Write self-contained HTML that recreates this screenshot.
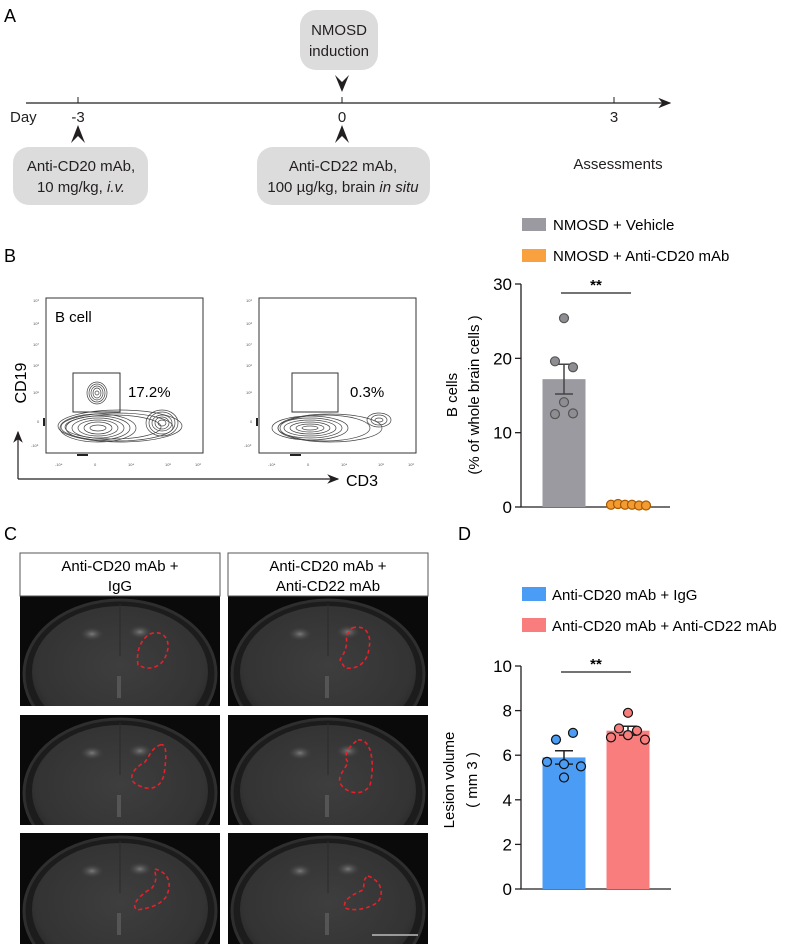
<!DOCTYPE html>
<html><head><meta charset="utf-8">
<style>
html,body{margin:0;padding:0;background:#fff;}
svg{display:block;font-family:"Liberation Sans",Arial,sans-serif;}
</style></head>
<body>
<svg id="fig" width="798" height="944" viewBox="0 0 798 944" xmlns="http://www.w3.org/2000/svg">
<defs>
<radialGradient id="brain" cx="50%" cy="45%" r="60%">
<stop offset="0" stop-color="#3e3e3e"/><stop offset="0.8" stop-color="#333"/><stop offset="1" stop-color="#222"/>
</radialGradient>
<radialGradient id="spot" cx="50%" cy="50%" r="50%">
<stop offset="0" stop-color="#7a7a7a"/><stop offset="1" stop-color="#3e3e3e" stop-opacity="0"/>
</radialGradient>
<marker id="ah" markerWidth="10" markerHeight="8" refX="9" refY="4" orient="auto"><path d="M0,0 L10,4 L0,8 L3,4Z" fill="#231f20"/></marker>
</defs>

<!-- Panel A -->
<g>
<text x="4" y="22" font-size="18">A</text>
<rect x="300" y="10" width="78" height="60" rx="16" fill="#dcdcdc"/>
<text x="339" y="35" font-size="15" text-anchor="middle" fill="#231f20">NMOSD</text>
<text x="339" y="56" font-size="15" text-anchor="middle" fill="#231f20">induction</text>
<path d="M335,75 L342,82 L349,75 L342,92Z" fill="#231f20"/>
<line x1="26" y1="103" x2="670" y2="103" stroke="#231f20" stroke-width="1.3" marker-end="url(#ah)"/>
<line x1="78" y1="97" x2="78" y2="103" stroke="#231f20"/>
<line x1="342" y1="97" x2="342" y2="103" stroke="#231f20"/>
<line x1="614" y1="97" x2="614" y2="103" stroke="#231f20"/>
<text x="10" y="122" font-size="15" fill="#231f20">Day</text>
<text x="78" y="122" font-size="15" text-anchor="middle" fill="#231f20">-3</text>
<text x="342" y="122" font-size="15" text-anchor="middle" fill="#231f20">0</text>
<text x="614" y="122" font-size="15" text-anchor="middle" fill="#231f20">3</text>
<path d="M71,143 L78,125 L85,143 L78,136Z" fill="#231f20"/>
<path d="M335,143 L342,125 L349,143 L342,136Z" fill="#231f20"/>
<rect x="13" y="147" width="135" height="58" rx="16" fill="#dcdcdc"/>
<text x="81" y="171" font-size="15" text-anchor="middle" fill="#231f20">Anti-CD20 mAb,</text>
<text x="81" y="192" font-size="15" text-anchor="middle" fill="#231f20">10 mg/kg, <tspan font-style="italic">i.v.</tspan></text>
<rect x="257" y="147" width="173" height="58" rx="16" fill="#dcdcdc"/>
<text x="343" y="171" font-size="15" text-anchor="middle" fill="#231f20">Anti-CD22 mAb,</text>
<text x="343" y="192" font-size="15" text-anchor="middle" fill="#231f20">100 µg/kg, brain <tspan font-style="italic">in situ</tspan></text>
<text x="618" y="169" font-size="15" text-anchor="middle" fill="#231f20">Assessments</text>
</g>

<!-- Panel B flow -->
<g>
<text x="4" y="262" font-size="18">B</text>
<rect x="46" y="298" width="157" height="155" fill="none" stroke="#333"/>
<rect x="259" y="298" width="157" height="155" fill="none" stroke="#333"/>
<text x="55" y="322" font-size="15">B cell</text>
<g fill="none" stroke="#444" stroke-width="0.7">
<ellipse cx="97" cy="393" rx="10" ry="11"/><ellipse cx="97" cy="393" rx="8" ry="9"/><ellipse cx="97" cy="393" rx="6" ry="7"/><ellipse cx="97" cy="393" rx="4" ry="5"/><ellipse cx="97" cy="393" rx="2" ry="2"/>
<ellipse cx="120" cy="426" rx="62" ry="16"/><ellipse cx="117" cy="427" rx="56" ry="14"/><ellipse cx="113" cy="427" rx="48" ry="12"/>
<ellipse cx="98" cy="428" rx="38" ry="14"/><ellipse cx="98" cy="428" rx="32" ry="12"/><ellipse cx="98" cy="428" rx="26" ry="10"/><ellipse cx="98" cy="428" rx="20" ry="8"/><ellipse cx="98" cy="428" rx="14" ry="6"/><ellipse cx="98" cy="428" rx="8" ry="3"/>
<ellipse cx="162" cy="423" rx="16" ry="13"/><ellipse cx="162" cy="423" rx="13" ry="11"/><ellipse cx="162" cy="423" rx="10" ry="8"/><ellipse cx="162" cy="423" rx="7" ry="6"/><ellipse cx="162" cy="423" rx="4" ry="3"/>
</g>
<rect x="73" y="373" width="47" height="39" fill="none" stroke="#333"/>
<text x="128" y="397" font-size="15">17.2%</text>
<g fill="none" stroke="#444" stroke-width="0.7">
<ellipse cx="310" cy="428" rx="38" ry="12"/><ellipse cx="310" cy="428" rx="32" ry="10"/><ellipse cx="310" cy="428" rx="26" ry="8"/><ellipse cx="310" cy="428" rx="20" ry="6"/><ellipse cx="310" cy="428" rx="14" ry="4"/><ellipse cx="310" cy="428" rx="8" ry="2"/>
<ellipse cx="330" cy="428" rx="52" ry="14"/><ellipse cx="325" cy="428" rx="45" ry="13"/>
<ellipse cx="379" cy="420" rx="12" ry="7"/><ellipse cx="379" cy="420" rx="8" ry="5"/><ellipse cx="379" cy="420" rx="4" ry="2"/>
</g>
<rect x="292" y="373" width="46" height="39" fill="none" stroke="#333"/>
<text x="350" y="397" font-size="15">0.3%</text>
<g font-size="4" fill="#555">
<text x="33" y="302">10⁹</text><text x="33" y="325">10⁸</text><text x="33" y="346">10⁷</text><text x="33" y="367">10⁶</text><text x="33" y="394">10⁵</text><text x="37" y="423">0</text><text x="31" y="447">-10⁵</text>
<text x="246" y="302">10⁹</text><text x="246" y="325">10⁸</text><text x="246" y="346">10⁷</text><text x="246" y="367">10⁶</text><text x="246" y="394">10⁵</text><text x="250" y="423">0</text><text x="244" y="447">-10⁵</text>
<text x="55" y="466">-10⁴</text><text x="94" y="466">0</text><text x="128" y="466">10⁴</text><text x="165" y="466">10⁵</text><text x="195" y="466">10⁶</text>
<text x="268" y="466">-10⁴</text><text x="307" y="466">0</text><text x="341" y="466">10⁴</text><text x="378" y="466">10⁵</text><text x="408" y="466">10⁶</text>
</g>
<g stroke="#222" stroke-width="2"><line x1="44" y1="418" x2="44" y2="426"/><line x1="257" y1="418" x2="257" y2="426"/><line x1="77" y1="455" x2="88" y2="455"/><line x1="290" y1="455" x2="301" y2="455"/></g>
<text transform="translate(26,383) rotate(-90)" font-size="16" text-anchor="middle">CD19</text>
<path d="M18,479 L18,432" stroke="#231f20" stroke-width="1.2" marker-end="url(#ah)"/>
<path d="M18,479 L338,479" stroke="#231f20" stroke-width="1.2" marker-end="url(#ah)"/>
<text x="346" y="486" font-size="16">CD3</text>
</g>

<!-- Panel B legend -->
<g>
<rect x="522" y="218" width="24" height="13" fill="#9b9aa0"/>
<text x="553" y="230" font-size="15">NMOSD + Vehicle</text>
<rect x="522" y="249" width="24" height="13" fill="#f9a03f"/>
<text x="553" y="261" font-size="15">NMOSD + Anti-CD20 mAb</text>
</g>
<g id="chartB"></g>

<!-- Panel C -->
<g>
<text x="4" y="540" font-size="18">C</text>
<g id="mri"></g>
<rect x="20" y="553" width="200" height="43" fill="#fff" stroke="#555"/>
<text x="120" y="571" font-size="15" text-anchor="middle">Anti-CD20 mAb +</text>
<text x="120" y="591" font-size="15" text-anchor="middle">IgG</text>
<rect x="228" y="553" width="200" height="43" fill="#fff" stroke="#555"/>
<text x="328" y="571" font-size="15" text-anchor="middle">Anti-CD20 mAb +</text>
<text x="328" y="591" font-size="15" text-anchor="middle">Anti-CD22 mAb</text>
<line x1="372" y1="935" x2="418" y2="935" stroke="#bbb" stroke-width="1.5"/>
</g>

<!-- Panel D -->
<text x="458" y="540" font-size="18">D</text>
<g>
<rect x="522" y="587" width="24" height="14" fill="#4b9cf5"/>
<text x="552" y="600" font-size="15">Anti-CD20 mAb + IgG</text>
<rect x="522" y="618" width="24" height="14" fill="#f87d7c"/>
<text x="552" y="631" font-size="15">Anti-CD20 mAb + Anti-CD22 mAb</text>
</g>
<g id="chartD"></g>
</svg>

<script>
// Panel B data
const bGroups = ["NMOSD + Vehicle", "NMOSD + Anti-CD20 mAb"];
const bMeans = [17.2, 0.3];
const bSem = [2.0, 0.05];
const bVehiclePoints = [25.4, 19.6, 18.8, 14.1, 12.5, 12.6];
const bAntiCD20Points = [0.3, 0.4, 0.3, 0.3, 0.2, 0.2];
const bTicks = [0, 10, 20, 30];
// Panel D data
const dGroups = ["Anti-CD20 mAb + IgG", "Anti-CD20 mAb + Anti-CD22 mAb"];
const dMeans = [5.9, 7.1];
const dSem = [0.3, 0.2];
const dIgGPoints = [6.7, 7.0, 5.7, 5.5, 5.6, 5.0];
const dCD22Points = [7.9, 7.2, 7.1, 6.8, 6.9, 6.7];
const dTicks = [0, 2, 4, 6, 8, 10];

const NS = "http://www.w3.org/2000/svg";
function mk(parent, tag, attrs, text) {
  const e = document.createElementNS(NS, tag);
  for (const k in attrs) e.setAttribute(k, attrs[k]);
  if (text !== undefined) e.textContent = text;
  parent.appendChild(e);
  return e;
}

function drawChart(g, o) {
  const y = v => o.y0 - (v - o.min) / (o.max - o.min) * (o.y0 - o.yTop);
  const axis = mk(g, "path", {d: `M${o.ax},${o.yTop} L${o.ax},${o.y0} L${o.axEnd},${o.y0}`, fill: "none", stroke: "#231f20", "stroke-width": 1.3});
  
  
  o.ticks.forEach(t => {
    mk(g, "line", {x1: o.ax - 6, x2: o.ax, y1: y(t), y2: y(t), stroke: "#231f20", "stroke-width": 1.3});
    const tl = mk(g, "text", {x: o.ax - 9, y: y(t) + 6, "font-size": 17, "text-anchor": "end"}, t);
    
    
  });
  const bw = 43, centers = [o.ax + 43, o.ax + 107];
  const jit = o.jitter;
  o.means.forEach((m, i) => {
    const cx = centers[i];
    const bar = mk(g, "rect", {x: cx - bw / 2, y: y(m), width: bw, height: o.y0 - y(m), fill: o.colors[i]});
    
    
    const lo = y(m - o.sem[i]), hi = y(m + o.sem[i]);
    mk(g, "line", {x1: cx, x2: cx, y1: lo, y2: hi, stroke: o.ebColor, "stroke-width": 1.5});
    mk(g, "line", {x1: cx - 9, x2: cx + 9, y1: lo, y2: lo, stroke: o.ebColor, "stroke-width": 1.5});
    mk(g, "line", {x1: cx - 9, x2: cx + 9, y1: hi, y2: hi, stroke: o.ebColor, "stroke-width": 1.5});
    o.points[i].forEach((v, j) => {
      const p = mk(g, "circle", {cx: cx + jit[i][j], cy: y(v), r: o.r, fill: o.pointColors[i], stroke: o.pointStroke[i], "stroke-width": 1.2});
      
      
    });
  });
  mk(g, "line", {x1: centers[0] - 3, x2: centers[1] + 3, y1: o.sigY, y2: o.sigY, stroke: "#231f20", "stroke-width": 1.3});
  const st = mk(g, "text", {x: (centers[0] + centers[1]) / 2, y: o.sigY - 3, "font-size": 15, "font-weight": "bold", "text-anchor": "middle"}, "**");
  
  
  const t1 = mk(g, "text", {transform: `translate(${o.labX1},${o.labY}) rotate(-90)`, "font-size": 15, "text-anchor": "middle"}, o.label1);
  
  
  const t2 = mk(g, "text", {transform: `translate(${o.labX2},${o.labY}) rotate(-90)`, "font-size": 15, "text-anchor": "middle"}, o.label2);
  
  
}

drawChart(document.getElementById("chartB"), {
  min: 0, max: 30, y0: 507, yTop: 284, ax: 521, axEnd: 670, ticks: bTicks,
  means: bMeans, sem: bSem, points: [bVehiclePoints, bAntiCD20Points],
  colors: ["#9b9aa0", "#f9a03f"], pointColors: ["#8e8d92", "#f39a30"], pointStroke: ["#555", "#a85a00"],
  ebColor: "#444", r: 4.5,
  jitter: [[0, -9, 9, 0, -9, 9], [-17, -10, -3, 4, 11, 18]],
  sigY: 293, labX1: 457, labX2: 479, labY: 395,
  label1: "B cells", label2: "(% of  whole brain cells )"
});
drawChart(document.getElementById("chartD"), {
  min: 0, max: 10, y0: 889, yTop: 666, ax: 521, axEnd: 671, ticks: dTicks,
  means: dMeans, sem: dSem, points: [dIgGPoints, dCD22Points],
  colors: ["#4b9cf5", "#f87d7c"], pointColors: ["#4b9cf5", "#f87d7c"], pointStroke: ["#111", "#111"],
  ebColor: "#222", r: 4.5,
  jitter: [[-8, 9, -17, 17, 0, 0], [0, -9, 9, -17, 0, 17]],
  sigY: 672, labX1: 454, labX2: 477, labY: 780,
  label1: "Lesion volume", label2: "( mm 3 )"
});

// MRI panels (illustrative images)
const mriRows = [596, 715, 833];
const mriCols = [20, 228];
const lesions = [
  ["M150,634 C160,630 169,636 168,648 C166,660 160,669 145,668 L138,665 C136,652 140,640 150,634Z",
   "M352,628 C365,624 372,634 369,648 C368,660 360,670 345,668 L340,660 C345,652 348,645 346,636 Z"],
  ["M160,745 C168,742 166,760 164,775 C160,790 148,790 140,786 C127,782 130,770 145,762 C150,755 152,748 160,745Z",
   "M358,740 C372,738 375,765 370,785 C365,795 350,795 342,786 C335,778 345,770 348,762 C342,756 350,745 358,740Z"],
  ["M155,869 C170,873 172,885 166,897 C160,905 150,908 137,910 C130,905 140,895 152,888 C158,880 155,876 155,869Z",
   "M368,876 C380,880 385,892 378,902 C370,908 355,912 345,908 C342,900 352,895 363,890 C365,884 362,880 368,876Z"]
];
const mri = document.getElementById("mri");
mriRows.forEach((ry, r) => {
  mriCols.forEach((cx, c) => {
    const h = r === 2 ? 111 : 110;
    const g = mk(mri, "g", {});
    
    
    const cp = mk(g, "clipPath", {id: "clip" + r + c});
    mk(cp, "rect", {x: cx, y: ry, width: 200, height: h});
    const inner = mk(g, "g", {"clip-path": `url(#clip${r}${c})`});
    mk(inner, "rect", {x: cx, y: ry, width: 200, height: h, fill: "#0a0a0a"});
    mk(inner, "ellipse", {cx: cx + 100, cy: ry + 78, rx: 96, ry: 74, fill: "#1c1c1c", stroke: "#2e2e2e", "stroke-width": 3});
    mk(inner, "ellipse", {cx: cx + 100, cy: ry + 76, rx: 88, ry: 66, fill: "url(#brain)"});
    mk(inner, "ellipse", {cx: cx + 72, cy: ry + 38, rx: 12, ry: 7, fill: "url(#spot)"});
    mk(inner, "ellipse", {cx: cx + 120, cy: ry + 36, rx: 12, ry: 7, fill: "url(#spot)"});
    mk(inner, "line", {x1: cx + 100, y1: ry + 8, x2: cx + 100, y2: ry + 60, stroke: "#2a2a2a", "stroke-width": 1});
    mk(inner, "rect", {x: cx + 97, y: ry + 80, width: 4, height: 22, fill: "#555"});
    mk(inner, "path", {d: lesions[r][c], fill: "none", stroke: "#e8202a", "stroke-width": 1.6, "stroke-dasharray": "4,3"});
  });
});
</script>
</body></html>
